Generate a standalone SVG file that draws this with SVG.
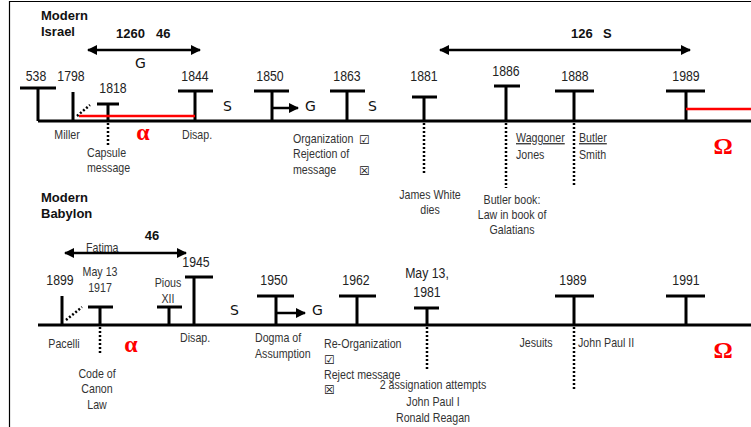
<svg xmlns="http://www.w3.org/2000/svg" width="751" height="427" viewBox="0 0 751 427">
<defs>
<style>
.ln{stroke:#000;stroke-width:3;fill:none}
.thin{stroke:#000;stroke-width:1.2;fill:none}
.red{stroke:#f00;stroke-width:2.5;fill:none}
.dot{stroke:#000;stroke-width:2.5;stroke-dasharray:2 2;fill:none}
.arr{stroke:#000;stroke-width:2.5;fill:none}
.yr{font-family:"Liberation Sans Narrow","Liberation Sans",sans-serif;font-size:15px;fill:#222;text-anchor:middle;transform-box:fill-box;transform-origin:center;transform:scaleX(0.82)}
.lb{font-family:"Liberation Sans Narrow","Liberation Sans",sans-serif;font-size:13px;fill:#333;transform-box:fill-box;transform-origin:left;transform:scaleX(0.82)}
.lbm{font-family:"Liberation Sans Narrow","Liberation Sans",sans-serif;font-size:13px;fill:#333;text-anchor:middle;transform-box:fill-box;transform-origin:center;transform:scaleX(0.82)}
.hd{font-family:"Liberation Sans",sans-serif;font-size:13px;font-weight:bold;fill:#111}
.hdm{font-family:"Liberation Sans",sans-serif;font-size:13px;font-weight:bold;fill:#111;text-anchor:middle}
.gs{font-family:"DejaVu Sans",sans-serif;font-size:14px;fill:#111}
.gr{font-family:"Liberation Serif",serif;font-size:24px;font-weight:bold;fill:#f00;text-anchor:middle}
.ck{font-family:"DejaVu Sans",sans-serif;font-size:12px;fill:#111}
</style>
<marker id="ah" viewBox="0 0 10 10" refX="9" refY="5" markerWidth="4" markerHeight="4" orient="auto-start-reverse" markerUnits="strokeWidth">
<path d="M0,0 L10,5 L0,10 Z" fill="#000"/>
</marker>
</defs>
<g id="frame"><path class="thin" d="M9.5,427 V1.5 H751"/></g>

<!-- Modern Israel -->
<g id="israel-title"><text class="hd" x="41" y="20">Modern</text><text class="hd" x="41" y="36">Israel</text></g>
<g id="israel-line"><path class="ln" d="M38,121 H751"/></g>
<g id="i538"><path class="ln" d="M20,88 H56 M38,88 V121"/><text class="yr" x="36" y="81">538</text></g>
<g id="i1798"><path class="ln" d="M73,92 V121"/><path class="dot" d="M77,116 L90,105"/><text class="yr" x="71" y="81">1798</text><text class="lbm" x="67" y="139">Miller</text></g>
<g id="i1818"><path class="ln" d="M97,104 H119 M108,104 V121"/><path class="dot" d="M108,123 V145"/><text class="yr" x="113" y="93">1818</text><text class="lb" x="87" y="157">Capsule</text><text class="lb" x="87" y="172">message</text></g>
<g id="i1844"><path class="ln" d="M178,91 H213 M195,91 V121"/><text class="yr" x="195" y="81">1844</text><text class="lb" x="182" y="139">Disap.</text><text class="gs" x="223" y="111">S</text></g>
<g id="i-alpha"><path class="red" d="M79,116 H195"/><text class="gr" x="143" y="140">α</text></g>
<g id="i1850"><path class="ln" d="M254,91 H289 M272,91 V121"/><text class="yr" x="270" y="81">1850</text><text class="gs" x="305" y="111">G</text></g>
<g id="i1863"><path class="ln" d="M330,91 H365 M347,91 V121"/><text class="yr" x="347" y="81">1863</text><text class="gs" x="368" y="111">S</text>
<text class="lb" x="293" y="143">Organization</text><text class="ck" x="359" y="144">☑</text><text class="lb" x="293" y="158">Rejection of</text><text class="lb" x="293" y="174">message</text><text class="ck" x="359" y="175">☒</text></g>
<g id="i1881"><path class="ln" d="M412,97 H437 M424,97 V121"/><path class="dot" d="M424,123 V175"/><text class="yr" x="424" y="81">1881</text><text class="lbm" x="430" y="199">James White</text><text class="lbm" x="430" y="214">dies</text></g>
<g id="i1886"><path class="ln" d="M494,86 H520 M506,86 V121"/><path class="dot" d="M506,123 V188"/><text class="yr" x="506" y="76">1886</text>
<text class="lbm" x="512" y="204">Butler book:</text><text class="lbm" x="512" y="219">Law in book of</text><text class="lbm" x="512" y="234">Galatians</text>
<text class="lb" x="516" y="142" text-decoration="underline">Waggoner</text><text class="lb" x="516" y="159">Jones</text></g>
<g id="i1888"><path class="ln" d="M555,91 H594 M574,91 V121"/><path class="dot" d="M574,123 V187"/><text class="yr" x="575" y="81">1888</text>
<text class="lb" x="579" y="142" text-decoration="underline">Butler</text><text class="lb" x="579" y="159">Smith</text></g>
<g id="i1989"><path class="ln" d="M666,91 H705 M686,91 V121"/><path class="red" d="M686,109 H751"/><text class="yr" x="686" y="81">1989</text><text class="gr" x="723" y="154">Ω</text></g>

<!-- Modern Babylon -->
<g id="babylon-title"><text class="hd" x="41" y="202">Modern</text><text class="hd" x="41" y="218">Babylon</text></g>
<g id="babylon-line"><path class="ln" d="M38,325 H751"/></g>
<g id="b1899"><path class="ln" d="M62,296 V325"/><path class="dot" d="M66,320 L82,307"/><text class="yr" x="60" y="285">1899</text><text class="lbm" x="64" y="348">Pacelli</text></g>
<g id="b1917"><path class="ln" d="M88,307 H113 M100,307 V325"/><path class="dot" d="M100,327 V353"/><text class="lbm" x="100" y="276">May 13</text><text class="lbm" x="100" y="292">1917</text>
<text class="lbm" x="97" y="378">Code of</text><text class="lbm" x="97" y="393">Canon</text><text class="lbm" x="97" y="409">Law</text></g>
<g id="b-alpha"><text class="gr" x="131" y="352">α</text></g>
<g id="b-pius"><path class="ln" d="M157,307 H182 M169,307 V325"/><text class="lbm" x="168" y="287">Pious</text><text class="lbm" x="168" y="303">XII</text></g>
<g id="b1945"><path class="ln" d="M185,277 H213 M194,277 V325"/><text class="yr" x="196" y="267">1945</text><text class="lb" x="180" y="342">Disap.</text><text class="gs" x="230" y="315">S</text></g>
<g id="b1950"><path class="ln" d="M257,296 H294 M276,296 V325"/><text class="yr" x="274" y="285">1950</text><text class="gs" x="312" y="315">G</text>
<text class="lb" x="255" y="342">Dogma of</text><text class="lb" x="255" y="358">Assumption</text></g>
<g id="b1962"><path class="ln" d="M339,296 H376 M357,296 V325"/><text class="yr" x="356" y="285">1962</text>
<text class="lb" x="324" y="348">Re-Organization</text><text class="ck" x="324" y="364">☑</text><text class="lb" x="324" y="379">Reject message</text><text class="ck" x="324" y="394">☒</text></g>
<g id="b1981"><path class="ln" d="M414,308 H439 M427,308 V325"/><path class="dot" d="M427,327 V370"/><text class="yr" x="427" y="278">May 13,</text><text class="yr" x="427" y="297">1981</text>
<text class="lbm" x="433" y="389">2 assignation attempts</text><text class="lbm" x="433" y="406">John Paul I</text><text class="lbm" x="433" y="422">Ronald Reagan</text></g>
<g id="b1989"><path class="ln" d="M555,296 H594 M574,296 V325"/><path class="dot" d="M574,327 V390"/><text class="yr" x="573" y="285">1989</text>
<text class="lbm" x="536" y="347">Jesuits</text><text class="lb" x="578" y="347">John Paul II</text></g>
<g id="b1991"><path class="ln" d="M666,296 H705 M686,296 V325"/><text class="yr" x="686" y="285">1991</text><text class="gr" x="723" y="358">Ω</text></g>

<!-- span labels -->
<g id="span-1260"><text class="hd" x="116" y="38">1260</text><text class="hd" x="156" y="38">46</text><text class="gs" x="135" y="68">G</text></g>
<g id="span-126"><text class="hd" x="571" y="38">126</text><text class="hd" x="603" y="38">S</text></g>
<g id="span-46"><text class="hdm" x="152" y="240">46</text><text class="lb" x="86" y="252">Fatima</text></g>

<g id="connectors">
<path class="arr" d="M88,50 H200" marker-start="url(#ah)" marker-end="url(#ah)"/>
<path class="arr" d="M440,50 H690" marker-start="url(#ah)" marker-end="url(#ah)"/>
<path class="arr" d="M65,253 H186" marker-start="url(#ah)" marker-end="url(#ah)"/>
<path class="arr" d="M272,108 H298" marker-end="url(#ah)"/>
<path class="arr" d="M276,313 H305" marker-end="url(#ah)"/>
</g>
</svg>
